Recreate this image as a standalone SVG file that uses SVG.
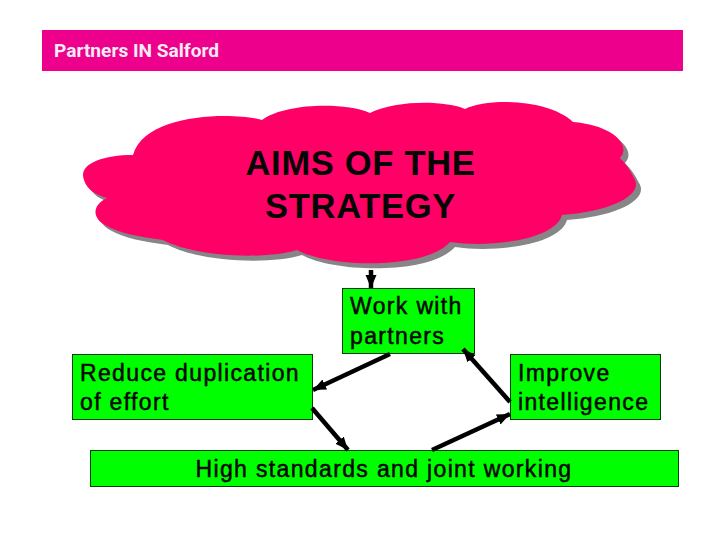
<svg xmlns="http://www.w3.org/2000/svg" width="720" height="540" viewBox="0 0 720 540">
<style>
text{font-family:"Liberation Sans",Arial,sans-serif;fill:#050505}
.box{fill:#00ff00;stroke:#063c06;stroke-width:1}
.lbl{font-size:23px;letter-spacing:1.35px;stroke:#050505;stroke-width:.5px}
.ttl{font-size:34.500px;font-weight:bold;text-anchor:middle;letter-spacing:.7px}
.con{stroke:#000;stroke-width:4.500;fill:none;marker-end:url(#ah)}
</style>
<defs>
<marker id="ah" markerUnits="userSpaceOnUse" markerWidth="14" markerHeight="12" refX="13" refY="6" orient="auto"><path d="M0 0.500L13 6L0 11.500Z" fill="#000"/></marker>
<path id="cloud" d="M262 120C235 112 145 112 133 155C100 155 78 165 84 180C87 190 96 195 107 198C92 205 92 218 105 225C118 233 140 237 163 240C195 257 265 260 297 250C330 268 425 270 450 242C490 248 555 240 562 215C610 212 645 195 634 178C630 170 626 164 620 158C632 145 612 125 573 122C550 100 490 97 465 109C445 100 395 100 370 113C345 102 285 103 262 120Z"/>
</defs>
<g id="header">
<rect x="42" y="30" width="641" height="41" fill="#ec008c"/>
<text x="54" y="57" style="font-family:Roboto,'Liberation Sans',sans-serif;font-size:18px;font-weight:700;fill:#fbeaf4" textLength="165" lengthAdjust="spacingAndGlyphs">Partners IN Salford</text>
</g>
<g id="cloud-node">
<use href="#cloud" x="5" y="5" fill="#868686"/>
<use href="#cloud" fill="#ff0066"/>
<text class="ttl" x="360.500" y="175">AIMS OF THE</text>
<text class="ttl" x="360.500" y="218">STRATEGY</text>
</g>
<g id="work">
<rect class="box" x="342.500" y="288.500" width="132" height="65"/>
<text class="lbl" x="350" y="314">Work with</text>
<text class="lbl" x="350" y="344">partners</text>
</g>
<g id="reduce">
<rect class="box" x="72.500" y="354.500" width="240" height="65"/>
<text class="lbl" x="80" y="381">Reduce duplication</text>
<text class="lbl" x="80" y="410">of effort</text>
</g>
<g id="improve">
<rect class="box" x="510.500" y="354.500" width="150" height="65"/>
<text class="lbl" x="518" y="381">Improve</text>
<text class="lbl" x="518" y="410">intelligence</text>
</g>
<g id="high">
<rect class="box" x="90.500" y="450.500" width="588" height="36"/>
<text class="lbl" x="384" y="477" text-anchor="middle">High standards and joint working</text>
</g>
<g id="connectors">
<line class="con" x1="371" y1="270" x2="371" y2="288"/>
<line class="con" x1="390" y1="354" x2="313" y2="390"/>
<line class="con" x1="510" y1="402" x2="463" y2="349"/>
<line class="con" x1="312" y1="408" x2="348" y2="450"/>
<line class="con" x1="432" y1="450" x2="510" y2="414"/>
</g>
</svg>
